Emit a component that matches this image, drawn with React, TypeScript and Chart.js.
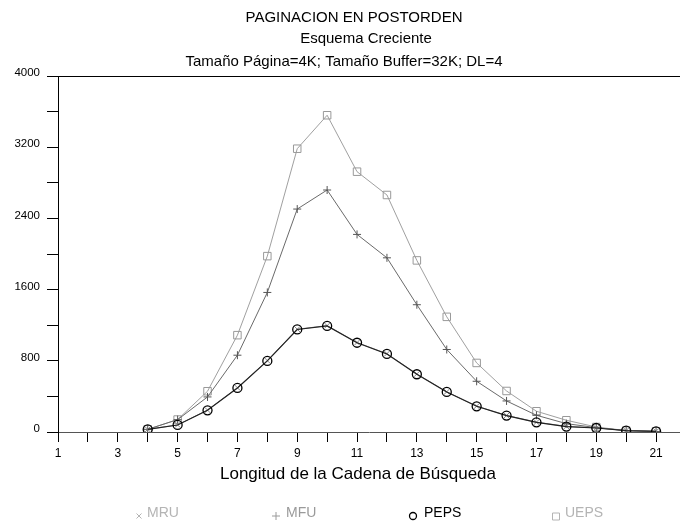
import { useEffect, useRef } from 'react';
import { Chart, registerables } from 'chart.js';

Chart.register(...registerables);

const xValues = [4, 5, 6, 7, 8, 9, 10, 11, 12, 13, 14, 15, 16, 17, 18, 19, 20, 21];
const mru = [30, 80, 246, 497, 802, 1155, 1195, 1005, 880, 652, 452, 291, 186, 111, 63, 46, 17, 9];
const mfu = [30, 139, 394, 863, 1568, 2505, 2719, 2220, 1957, 1430, 927, 570, 349, 188, 94, 49, 15, 5];
const peps = [30, 79, 244, 495, 799, 1152, 1192, 1003, 877, 649, 450, 289, 184, 109, 61, 45, 16, 8];
const ueps = [30, 140, 458, 1088, 1976, 3183, 3559, 2925, 2663, 1928, 1294, 776, 461, 233, 132, 56, 16, 8];

const titleLines = ['PAGINACION EN POSTORDEN', 'Esquema Creciente', 'Tamaño Página=4K; Tamaño Buffer=32K; DL=4'];
const xAxisTitle = 'Longitud de la Cadena de Búsqueda';
const legendLabels = ['MRU', 'MFU', 'PEPS', 'UEPS'];
const xTickValues = [1, 2, 3, 4, 5, 6, 7, 8, 9, 10, 11, 12, 13, 14, 15, 16, 17, 18, 19, 20, 21];
const xTickLabels = ['1', '', '3', '', '5', '', '7', '', '9', '', '11', '', '13', '', '15', '', '17', '', '19', '', '21'];
const xMin = 1;
const xMax = 21.8;
const yMin = 0;
const yMax = 4000;
const yStep = 400;
const yLabelStep = 800;

const FONT = '"Liberation Sans", Arial, sans-serif';

const toPoints = (vals: number[]) => xValues.map((x, i) => ({ x, y: vals[i] }));

const decor = {
  id: 'decor',
  beforeDraw(chart: any) {
    const ctx = chart.ctx;
    ctx.save();
    ctx.fillStyle = '#fff';
    ctx.fillRect(0, 0, chart.width, chart.height);
    ctx.restore();
  },
  afterDraw(chart: any) {
    const ctx: CanvasRenderingContext2D = chart.ctx;
    const { left, right, top } = chart.chartArea;
    ctx.save();
    ctx.strokeStyle = '#000';
    ctx.lineWidth = 1;
    ctx.beginPath();
    ctx.moveTo(left, Math.round(top) + 0.5);
    ctx.lineTo(right, Math.round(top) + 0.5);
    ctx.stroke();

    ctx.fillStyle = '#000';
    ctx.textAlign = 'center';
    ctx.textBaseline = 'middle';
    ctx.font = `15px ${FONT}`;
    const tx = [354, 366, 344];
    const ty = [18, 39, 62];
    titleLines.forEach((t, i) => ctx.fillText(t, tx[i], ty[i]));

    ctx.font = `17px ${FONT}`;
    ctx.fillText(xAxisTitle, 358, 474);

    const lx = [139, 276, 413, 556];
    const textX = [147, 286, 424, 565];
    const colors = ['#b4b4b4', '#9a9a9a', '#000', '#b4b4b4'];
    const ly = 513;
    const sy = 516;
    ctx.font = `14px ${FONT}`;
    ctx.textAlign = 'left';
    legendLabels.forEach((lab, i) => {
      ctx.fillStyle = colors[i];
      ctx.fillText(lab, textX[i], ly);
      ctx.strokeStyle = colors[i];
      ctx.lineWidth = 1;
      ctx.beginPath();
      const cx = lx[i];
      if (i === 0) {
        ctx.moveTo(cx - 2.5, sy - 2.5); ctx.lineTo(cx + 2.5, sy + 2.5);
        ctx.moveTo(cx + 2.5, sy - 2.5); ctx.lineTo(cx - 2.5, sy + 2.5);
      } else if (i === 1) {
        ctx.moveTo(cx - 4, sy); ctx.lineTo(cx + 4, sy);
        ctx.moveTo(cx, sy - 4); ctx.lineTo(cx, sy + 4);
      } else if (i === 2) {
        ctx.lineWidth = 1.3;
        ctx.arc(cx, sy, 3.5, 0, Math.PI * 2);
      } else {
        ctx.rect(cx - 3.5, sy - 3, 7, 7);
      }
      ctx.stroke();
    });
    ctx.restore();
  },
};

export default function App() {
  const ref = useRef<HTMLCanvasElement | null>(null);
  useEffect(() => {
    if (!ref.current) return;
    const chart = new Chart(ref.current, {
      type: 'line',
      data: {
        datasets: [
          {
            label: 'MRU',
            data: toPoints(mru),
            borderColor: '#8c8c8c',
            borderWidth: 1,
            pointStyle: 'crossRot',
            pointRadius: 4,
            pointBorderColor: '#888',
            pointBorderWidth: 1,
            pointBackgroundColor: 'rgba(0,0,0,0)',
            tension: 0,
            order: 1,
          },
          {
            label: 'MFU',
            data: toPoints(mfu),
            borderColor: '#6a6a6a',
            borderWidth: 1,
            pointStyle: 'cross',
            pointRadius: 4,
            pointBorderColor: '#555',
            pointBorderWidth: 1,
            pointBackgroundColor: 'rgba(0,0,0,0)',
            tension: 0,
            order: 2,
          },
          {
            label: 'PEPS',
            data: toPoints(peps),
            borderColor: '#222',
            borderWidth: 1.2,
            pointStyle: 'circle',
            pointRadius: 4.5,
            pointBorderColor: '#000',
            pointBorderWidth: 1.3,
            pointBackgroundColor: 'rgba(0,0,0,0)',
            tension: 0,
            order: 0,
          },
          {
            label: 'UEPS',
            data: toPoints(ueps),
            borderColor: '#a0a0a0',
            borderWidth: 1,
            pointStyle: 'rect',
            pointRadius: 5.3,
            pointBorderColor: '#999',
            pointBorderWidth: 1,
            pointBackgroundColor: 'rgba(0,0,0,0)',
            tension: 0,
            order: 3,
          },
        ],
      },
      options: {
        animation: false,
        responsive: false,
        events: [],
        layout: { autoPadding: false, padding: { top: 76, left: 0, right: 0, bottom: 0 } },
        plugins: {
          legend: { display: false },
          title: { display: false },
          tooltip: { enabled: false },
        },
        scales: {
          x: {
            type: 'linear',
            min: xMin,
            max: xMax,
            afterFit: (s: any) => { s.height = 91; s.paddingRight = 0; s.paddingLeft = 0; },
            afterBuildTicks: (s: any) => { s.ticks = xTickValues.map((v) => ({ value: v })); },
            ticks: {
              autoSkip: false,
              maxRotation: 0,
              padding: 4,
              color: '#000',
              font: { family: FONT, size: 12 },
              callback: (v: any, i: number) => xTickLabels[i] ?? '',
            },
            grid: {
              display: true,
              drawOnChartArea: false,
              drawTicks: true,
              tickLength: 10,
              tickColor: '#000',
              tickWidth: 1,
            },
            border: { display: true, color: '#555', width: 1 },
          },
          y: {
            type: 'linear',
            min: yMin,
            max: yMax,
            afterFit: (s: any) => { s.width = 58; },
            ticks: {
              stepSize: yStep,
              autoSkip: false,
              padding: 7,
              labelOffset: -3,
              color: '#000',
              font: { family: FONT, size: 11.5 },
              callback: (v: any) => (Number(v) % yLabelStep === 0 ? String(v) : ''),
            },
            grid: {
              display: true,
              drawOnChartArea: false,
              drawTicks: true,
              tickLength: 11,
              tickColor: '#000',
              tickWidth: 1,
            },
            border: { display: true, color: '#000', width: 1 },
          },
        },
      },
      plugins: [decor],
    });
    return () => chart.destroy();
  }, []);
  return (
    <div style={{ position: 'absolute', left: 0, top: 0, width: 680, height: 523 }}>
      <canvas ref={ref} width={680} height={523} style={{ width: 680, height: 523, display: 'block' }} />
    </div>
  );
}
